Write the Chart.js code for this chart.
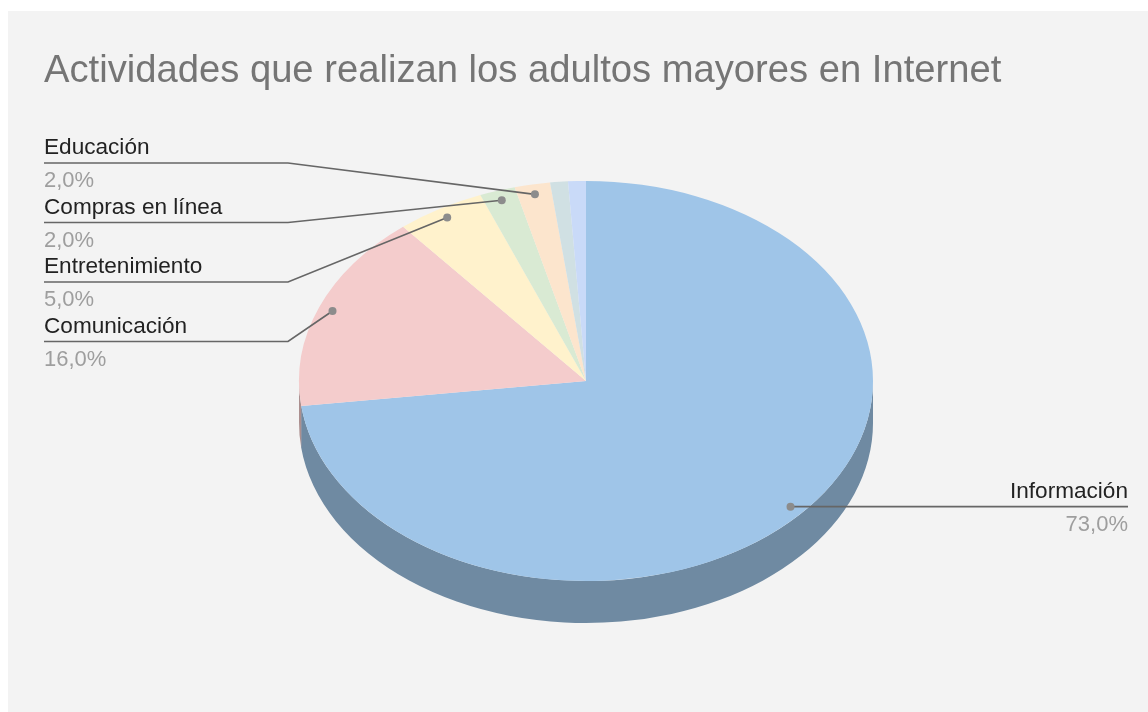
<!DOCTYPE html>
<html lang="es">
<head>
<meta charset="utf-8">
<title>Actividades que realizan los adultos mayores en Internet</title>
<script src="https://cdn.jsdelivr.net/npm/chart.js@4.4.1/dist/chart.umd.min.js"></script>
<style>
  html, body { margin: 0; padding: 0; background: #ffffff; }
  canvas { display: block; }
</style>
</head>
<body>
<canvas class="js-pie" width="1148" height="712"></canvas>
<script>
const chartTitle = "Actividades que realizan los adultos mayores en Internet";
const categories = ["Información", "Comunicación", "Entretenimiento", "Compras en línea", "Educación", "Otras actividades", "Sin especificar"];
const percentages = [73, 16, 5, 2, 2, 1, 1];
const sliceColors = ["#9fc5e8", "#f4cccc", "#fff2cc", "#d9ead3", "#fce5cd", "#d0e0e3", "#c9daf8"];
const labelledSlices = 5; // the two smallest slices carry no label

const FONT = '"Liberation Sans", Arial, sans-serif';
const tilt = 0.697;   // vertical squash of the pie
const depth = 42;     // thickness of the pie wall

const darken = function (hex, f) {
  const n = parseInt(hex.slice(1), 16);
  const r = Math.round(((n >> 16) & 255) * f);
  const g = Math.round(((n >> 8) & 255) * f);
  const b = Math.round((n & 255) * f);
  return `rgb(${r}, ${g}, ${b})`;
};

const percentText = (v) => v.toFixed(1).replace(".", ",") + "%";

// background panel + title
const frame = {
  id: "frame",
  beforeDraw(chart) {
    const ctx = chart.ctx;
    ctx.save();
    ctx.fillStyle = "#ffffff";
    ctx.fillRect(0, 0, chart.width, chart.height);
    ctx.fillStyle = "#f3f3f3";
    ctx.fillRect(8, 11, chart.width - 8, chart.height - 11);
    ctx.fillStyle = "#757575";
    ctx.font = "38.2px " + FONT;
    ctx.textBaseline = "alphabetic";
    ctx.fillText(chartTitle, 44, 82);
    ctx.restore();
  },
};

// fake 3D: draw the wall, then squash the top face into an ellipse
const tilted = {
  id: "tilted",
  beforeDatasetsDraw(chart) {
    const ctx = chart.ctx;
    const arcs = chart.getDatasetMeta(0).data;
    ctx.save();
    arcs.forEach((arc, i) => {
      const { x, y, startAngle, endAngle, outerRadius } = arc.getProps(["x", "y", "startAngle", "endAngle", "outerRadius"], true);
      ctx.fillStyle = darken(sliceColors[i], 0.7);
      [0, 2 * Math.PI].forEach((shift) => {
        const a0 = Math.max(startAngle, shift);
        const a1 = Math.min(endAngle, shift + Math.PI);
        if (a1 <= a0) return;
        ctx.beginPath();
        ctx.ellipse(x, y, outerRadius, outerRadius * tilt, 0, a0, a1 + 0.004);
        ctx.ellipse(x, y + depth, outerRadius, outerRadius * tilt, 0, a1 + 0.004, a0, true);
        ctx.closePath();
        ctx.fill();
      });
    });
    ctx.restore();

    const cy = (chart.chartArea.top + chart.chartArea.bottom) / 2;
    ctx.save();
    ctx.translate(0, cy * (1 - tilt));
    ctx.scale(1, tilt);
  },
  afterDatasetsDraw(chart) {
    const ctx = chart.ctx;
    ctx.restore();

    const arcs = chart.getDatasetMeta(0).data;
    const anchors = [];
    arcs.forEach((arc, i) => {
      if (i >= labelledSlices) return;
      const { x, y, startAngle, endAngle, outerRadius } = arc.getProps(["x", "y", "startAngle", "endAngle", "outerRadius"], true);
      const mid = (startAngle + endAngle) / 2;
      anchors.push({
        i,
        cx: x,
        px: x + 0.95 * outerRadius * Math.cos(mid),
        py: y + 0.95 * outerRadius * tilt * Math.sin(mid),
      });
    });

    const left = anchors.filter((a) => a.px < a.cx).sort((a, b) => a.py - b.py);
    const right = anchors.filter((a) => a.px >= a.cx);

    ctx.save();
    ctx.lineWidth = 1.7;
    ctx.strokeStyle = "#666666";
    ctx.textBaseline = "alphabetic";

    left.forEach((a, n) => {
      const base = 154 + n * 59.5;
      const lineY = base + 9;
      ctx.beginPath();
      ctx.moveTo(44, lineY);
      ctx.lineTo(288, lineY);
      ctx.lineTo(a.px, a.py);
      ctx.stroke();
      ctx.textAlign = "left";
      ctx.font = "22.6px " + FONT;
      ctx.fillStyle = "#222222";
      ctx.fillText(categories[a.i], 44, base);
      ctx.font = "22px " + FONT;
      ctx.fillStyle = "#9e9e9e";
      ctx.fillText(percentText(percentages[a.i]), 44, base + 33);
    });

    right.forEach((a) => {
      ctx.beginPath();
      ctx.moveTo(a.px, a.py);
      ctx.lineTo(1128, a.py);
      ctx.stroke();
      ctx.textAlign = "right";
      ctx.font = "22.6px " + FONT;
      ctx.fillStyle = "#222222";
      ctx.fillText(categories[a.i], 1128, a.py - 8.5);
      ctx.font = "22px " + FONT;
      ctx.fillStyle = "#9e9e9e";
      ctx.fillText(percentText(percentages[a.i]), 1128, a.py + 24.5);
    });

    ctx.fillStyle = "#8c8c8c";
    anchors.forEach((a) => {
      ctx.beginPath();
      ctx.arc(a.px, a.py, 4, 0, Math.PI * 2);
      ctx.fill();
    });
    ctx.restore();
  },
};

const drawPie = function () {
  const el = document.querySelector(".js-pie");

  new Chart(el, {
    type: "pie",
    data: {
      labels: categories,
      datasets: [
        {
          data: percentages,
          backgroundColor: sliceColors,
          borderWidth: 0,
          clip: false,
        },
      ],
    },
    options: {
      responsive: false,
      animation: false,
      devicePixelRatio: 1,
      events: [],
      layout: {
        padding: { left: 299, right: 275, top: 94, bottom: 44 },
      },
      plugins: {
        legend: { display: false },
        tooltip: { enabled: false },
      },
    },
    plugins: [frame, tilted],
  });
};

document.addEventListener("DOMContentLoaded", drawPie);
</script>
</body>
</html>
